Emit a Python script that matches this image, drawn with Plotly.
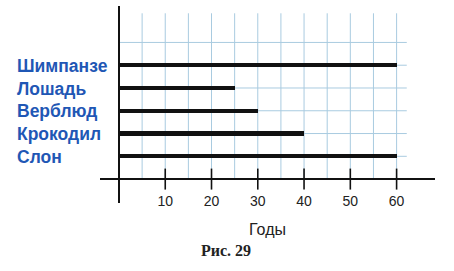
import plotly.graph_objects as go

animals = ["Слон", "Крокодил", "Верблюд", "Лошадь", "Шимпанзе"]
years = [60, 40, 30, 25, 60]
tick_vals = [10, 20, 30, 40, 50, 60]
tick_text = ["10", "20", "30", "40", "50", "60"]
grid_x = list(range(5, 65, 5))
grid_y = [1, 2, 3, 4, 5, 6]

W, H = 454, 271
ml, mr, mt, mb = 100, 19, 6, 68
xr = [-4.1, 68.3]
yr = [-1.05, 7.6]

fig = go.Figure()

# grid lines
for gx in grid_x:
    fig.add_shape(type="line", x0=gx, x1=gx, y0=0, y1=7.28, xref="x", yref="y",
                  line=dict(color="#a9cbe0", width=1), layer="below")
for gy in grid_y:
    fig.add_shape(type="line", x0=0, x1=62.2, y0=gy, y1=gy, xref="x", yref="y",
                  line=dict(color="#a9cbe0", width=1), layer="below")

ypos = list(range(1, len(animals) + 1))
fig.add_trace(go.Bar(x=years, y=ypos, orientation="h", width=0.18,
                     marker=dict(color="#111111", line=dict(width=0)),
                     hoverinfo="skip", showlegend=False))

# tick marks crossing the axis
fig.add_trace(go.Scatter(x=tick_vals, y=[0] * len(tick_vals), mode="markers",
                         marker=dict(symbol="line-ns", size=15,
                                     line=dict(color="#111111", width=1.6)),
                         hoverinfo="skip", showlegend=False))

for name, yp in zip(animals, ypos):
    fig.add_annotation(text=name, x=-85 / (W - ml - mr), xref="paper", xanchor="left",
                       y=yp - 0.03, yref="y", yanchor="middle", showarrow=False,
                       font=dict(family="Liberation Sans", size=17.5, color="#1f57b5", weight="bold"))

pos = (0 - yr[0]) / (yr[1] - yr[0])
fig.update_layout(
    width=W, height=H,
    margin=dict(l=ml, r=mr, t=mt, b=mb),
    plot_bgcolor="white", paper_bgcolor="white",
    bargap=0,
    xaxis=dict(range=xr, tickvals=tick_vals, ticktext=tick_text, showgrid=False,
               zeroline=True, zerolinecolor="#111111", zerolinewidth=2,
               anchor="free", position=pos, ticks="", ticklabelstandoff=12,
               tickfont=dict(family="Liberation Sans", size=14, color="#222222"),
               title=dict(text="Годы", standoff=15,
                          font=dict(family="Liberation Sans", size=16, color="#222222"))),
    yaxis=dict(range=yr, showgrid=False, showticklabels=False, ticks="",
               zeroline=True, zerolinecolor="#111111", zerolinewidth=2),
)

fig.add_annotation(text="<b>Рис. 29</b>", x=(226 - ml) / (W - ml - mr), xref="paper",
                   y=(mt + (H - mt - mb) - 250) / (H - mt - mb), yref="paper",
                   xanchor="center", yanchor="middle", showarrow=False,
                   font=dict(family="Liberation Serif", size=16, color="#222222"))

fig.write_html("out.html")
